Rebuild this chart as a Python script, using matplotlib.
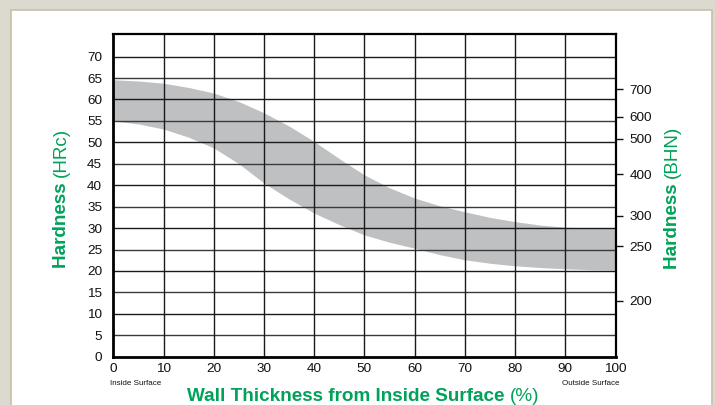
import matplotlib
matplotlib.use("Agg")
import matplotlib.pyplot as plt
from matplotlib.patches import Rectangle

# Hardness band through the wall (HRc), read at every 5 % of wall thickness
wall_pct = [0, 5, 10, 15, 20, 25, 30, 35, 40, 45, 50,
            55, 60, 65, 70, 75, 80, 85, 90, 95, 100]
hrc_upper = [64.6, 64.3, 63.8, 62.8, 61.5, 59.5, 56.9, 53.8, 50.2, 46.2, 42.4,
             39.4, 37.0, 35.2, 33.8, 32.5, 31.5, 30.7, 30.2, 30.05, 30.0]
hrc_lower = [55.0, 54.3, 53.1, 51.2, 48.7, 45.0, 40.5, 36.8, 33.5, 30.8, 28.4,
             26.7, 25.3, 23.8, 22.6, 21.8, 21.2, 20.8, 20.5, 20.3, 20.2]

# Left axis (HRc) and bottom axis tick labels
hrc_ticks = list(range(0, 75, 5))
pct_ticks = list(range(0, 110, 10))

# Brinell equivalents shown on the right axis, placed on the HRc scale
bhn_labels = [200, 250, 300, 400, 500, 600, 700]
bhn_at_hrc = [13.1, 25.8, 32.9, 42.6, 50.8, 56.0, 62.4]

GREEN = "#00a259"
BAND = "#bfc0c2"
plt.rcParams["font.family"] = ["Liberation Sans", "DejaVu Sans"]

W, H = 715.0, 405.0
fig = plt.figure(figsize=(W / 100, H / 100), dpi=100)
fig.patch.set_facecolor("#dcd9ce")

# white panel with a thin border
panel = Rectangle((10.5 / W, -0.01), (711.5 - 10.5) / W, (H - 9.5) / H + 0.01,
                  transform=fig.transFigure, facecolor="white",
                  edgecolor="#c6c0aa", linewidth=1.2, zorder=-10)
fig.patches.append(panel)

ax = fig.add_axes([113.3 / W, 48.3 / H, (615.5 - 113.3) / W, (356.7 - 34.3) / H])
ax.set_facecolor("white")

ax.fill_between(wall_pct, hrc_lower, hrc_upper, color=BAND, linewidth=0, zorder=1)

ax.set_xlim(0, 100)
ax.set_ylim(0, 75.2)
ax.set_xticks(pct_ticks)
ax.set_yticks(hrc_ticks)
ax.tick_params(axis="both", length=0, labelsize=9.7, colors="#111111")
ax.tick_params(axis="y", pad=8.0)
ax.tick_params(axis="x", pad=4.5)

# grid lines every 5 HRc and every 10 %
for v in range(5, 75, 5):
    ax.axhline(v, color="#1a1a1a" if v % 10 == 0 else "#3a3a3a",
               linewidth=1.0, zorder=1.5)
for v in range(10, 100, 10):
    ax.axvline(v, color="#1a1a1a", linewidth=1.0, zorder=1.5)

for side in ("left", "bottom"):
    ax.spines[side].set_linewidth(2.0)
for side in ("top", "right"):
    ax.spines[side].set_linewidth(1.6)
for s in ax.spines.values():
    s.set_color("black")
    s.set_zorder(3)

# right-hand Brinell scale
ax2 = ax.twinx()
ax2.set_ylim(ax.get_ylim())
ax2.set_yticks(bhn_at_hrc)
ax2.set_yticklabels([str(b) for b in bhn_labels])
ax2.tick_params(axis="y", length=5, width=1.0, pad=5, labelsize=9.7,
                colors="#111111", direction="out")
for s in ax2.spines.values():
    s.set_visible(False)

# surface markers under the x axis
ax.text(-0.6, -6.2, "Inside Surface", fontsize=5.8, ha="left", va="center",
        color="#111111", clip_on=False)
ax.text(100.8, -6.2, "Outside Surface", fontsize=5.8, ha="right", va="center",
        color="#111111", clip_on=False)


def two_part_title(x_px, y_px, name, unit, rotation=0, size=13.6):
    """Bold name followed by a regular-weight unit, centred on (x_px, y_px)."""
    bold = fig.text(0, 0, name + " ", fontsize=size, fontweight="bold",
                    color=GREEN, rotation=rotation, ha="left", va="baseline",
                    rotation_mode="anchor")
    reg = fig.text(0, 0, unit, fontsize=size, color=GREEN, rotation=rotation,
                   ha="left", va="baseline", rotation_mode="anchor")
    fig.canvas.draw()
    r = fig.canvas.get_renderer()
    wb = bold.get_window_extent(r)
    wr = reg.get_window_extent(r)
    if rotation == 0:
        total = wb.width + wr.width
        x0 = x_px - total / 2
        bold.set_position((x0 / W, 1 - y_px / H))
        reg.set_position(((x0 + wb.width) / W, 1 - y_px / H))
    else:
        total = wb.height + wr.height
        y0 = (H - y_px) - total / 2
        bold.set_position((x_px / W, y0 / H))
        reg.set_position((x_px / W, (y0 + wb.height) / H))


two_part_title(363.5, 401.0, "Wall Thickness from Inside Surface", "(%)")
two_part_title(65.5, 198, "Hardness", "(HRc)", rotation=90)
two_part_title(677.0, 197, "Hardness", "(BHN)", rotation=90)

fig.savefig("out.png", dpi=100, facecolor=fig.get_facecolor())
